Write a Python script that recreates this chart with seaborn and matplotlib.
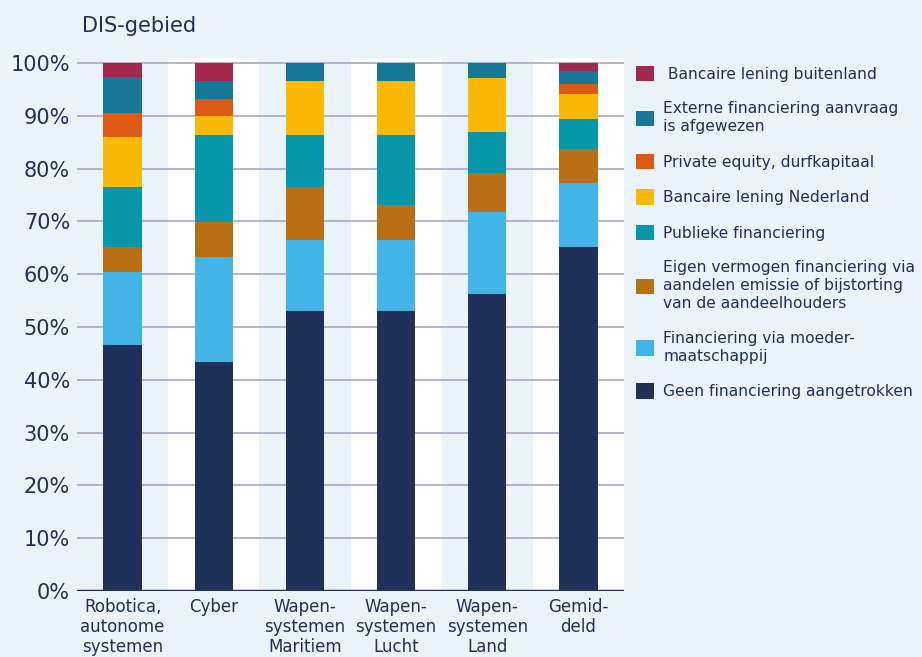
import pandas as pd
import matplotlib.pyplot as plt
import seaborn as sns
from matplotlib.patches import Patch

# Categorieën (x-as)
categorieen = [
    "Robotica,\nautonome\nsystemen",
    "Cyber",
    "Wapen-\nsystemen\nMaritiem",
    "Wapen-\nsystemen\nLucht",
    "Wapen-\nsystemen\nLand",
    "Gemid-\ndeld",
]

# Aandelen per financieringsvorm (%), van onder naar boven gestapeld
geen_financiering = [46.5, 43.3, 53.1, 53.1, 56.3, 65.2]
moedermaatschappij = [13.9, 20.0, 13.4, 13.4, 15.4, 12.0]
eigen_vermogen = [4.7, 6.6, 10.1, 6.6, 7.5, 6.5]
publieke_financiering = [11.5, 16.5, 9.8, 13.3, 7.8, 5.6]
bancair_nederland = [9.3, 3.6, 10.2, 10.2, 10.2, 4.8]
private_equity = [4.6, 3.1, 0.0, 0.0, 0.0, 2.0]
aanvraag_afgewezen = [6.9, 3.5, 3.4, 3.4, 2.8, 2.3]
bancair_buitenland = [2.6, 3.4, 0.0, 0.0, 0.0, 1.6]

reeksen = [
    ("Geen financiering aangetrokken", geen_financiering, "#1F3158"),
    ("Financiering via moeder-\nmaatschappij", moedermaatschappij, "#42B4E6"),
    ("Eigen vermogen financiering via\naandelen emissie of bijstorting\nvan de aandeelhouders",
     eigen_vermogen, "#B86F16"),
    ("Publieke financiering", publieke_financiering, "#0796AA"),
    ("Bancaire lening Nederland", bancair_nederland, "#FBB907"),
    ("Private equity, durfkapitaal", private_equity, "#DC5A13"),
    ("Externe financiering aanvraag\nis afgewezen", aanvraag_afgewezen, "#167896"),
    (" Bancaire lening buitenland", bancair_buitenland, "#A3294C"),
]

navy = "#1F3158"
achtergrond = "#EAF2FA"

df = pd.DataFrame({naam: waarden for naam, waarden, _ in reeksen}, index=categorieen)
cumulatief = df.cumsum(axis=1)

sns.set_style("white")
plt.rcParams["font.family"] = ["DejaVu Sans"]

fig = plt.figure(figsize=(9.22, 6.57), dpi=100, facecolor=achtergrond)
ax = fig.add_axes([77 / 922, 66 / 657, 547 / 922, (591 - 57.7) / 657])
ax.set_facecolor(achtergrond)

# witte banden achter om-en-om categorieën
for i in range(1, len(categorieen), 2):
    ax.axvspan(i - 0.5, i + 0.5, color="white", zorder=0, lw=0)

# rasterlijnen
for t in range(10, 101, 10):
    ax.axhline(t, color="#A9A8C2", lw=1.2, zorder=1)

# gestapelde staven: van boven naar beneden tekenen
for naam, _, kleur in reversed(reeksen):
    sns.barplot(x=categorieen, y=cumulatief[naam].values, color=kleur,
                saturation=1, width=0.42, ax=ax, zorder=2, linewidth=0)

ax.axhline(0, color=navy, lw=2.5, zorder=3)

ax.set_xlim(-0.5, len(categorieen) - 0.5)
ax.set_ylim(0, 101)
ax.set_yticks(range(0, 101, 10))
ax.set_yticklabels([f"{t}%" for t in range(0, 101, 10)])
ax.tick_params(axis="y", length=0, pad=5, labelsize=15, labelcolor=navy)
ax.tick_params(axis="x", length=0, pad=5, labelsize=12, labelcolor=navy)
for lbl in ax.get_xticklabels():
    lbl.set_linespacing(1.15)
sns.despine(ax=ax, left=True, bottom=True, right=True, top=True)
ax.set_xlabel("")
ax.set_ylabel("")

fig.text(82 / 922, 1 - 32 / 657, "DIS-gebied", fontsize=15, color=navy,
         va="baseline", ha="left")

# legenda (bovenste segment eerst)
handles = [Patch(facecolor=kleur, edgecolor="none") for _, _, kleur in reversed(reeksen)]
labels = [naam for naam, _, _ in reversed(reeksen)]
leg = fig.legend(handles, labels, loc="upper left",
                 bbox_to_anchor=(636 / 922, 1 - 66 / 657),
                 frameon=False, fontsize=11.2, labelcolor=navy,
                 handlelength=1.15, handleheight=1.15, handletextpad=0.6,
                 labelspacing=1.25, borderpad=0, borderaxespad=0)
for txt in leg.get_texts():
    txt.set_linespacing(1.25)

fig.savefig("out.png", dpi=100, facecolor=achtergrond)
